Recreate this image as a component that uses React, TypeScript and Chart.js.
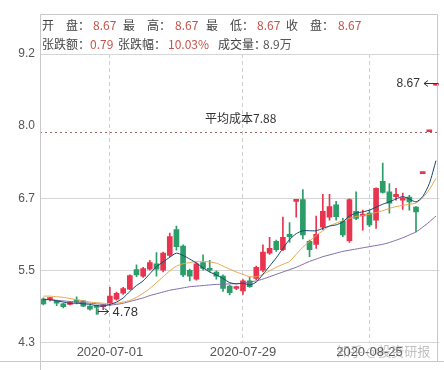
import React, { useEffect, useRef } from 'react';
import { Chart, registerables } from 'chart.js';
Chart.register(...registerables);

const dates = [
  '2020-06-15','2020-06-16','2020-06-17','2020-06-18','2020-06-19','2020-06-22','2020-06-23','2020-06-24','2020-06-29','2020-06-30',
  '2020-07-01','2020-07-02','2020-07-03','2020-07-06','2020-07-07','2020-07-08','2020-07-09','2020-07-10','2020-07-13','2020-07-14',
  '2020-07-15','2020-07-16','2020-07-17','2020-07-20','2020-07-21','2020-07-22','2020-07-23','2020-07-24','2020-07-27','2020-07-28',
  '2020-07-29','2020-07-30','2020-07-31','2020-08-03','2020-08-04','2020-08-05','2020-08-06','2020-08-07','2020-08-10','2020-08-11',
  '2020-08-12','2020-08-13','2020-08-14','2020-08-17','2020-08-18','2020-08-19','2020-08-20','2020-08-21','2020-08-24','2020-08-25',
  '2020-08-26','2020-08-27','2020-08-28','2020-08-31','2020-09-01','2020-09-02','2020-09-03','2020-09-04','2020-09-07','2020-09-08',
];

const opens = [
  5.04, 5.03, 5.01, 4.96, 4.95, 5.01, 5.01, 4.92, 4.93, 4.91,
  4.97, 5.04, 5.14, 5.21, 5.54, 5.43, 5.55, 5.64, 5.53, 5.78,
  6.22, 5.94, 5.53, 5.38, 5.66, 5.56, 5.50, 5.43, 5.26, 5.22,
  5.18, 5.35, 5.39, 5.53, 5.82, 6.02, 5.88, 6.14, 6.70, 6.73,
  6.02, 5.97, 6.26, 6.43, 6.64, 6.36, 6.03, 6.53, 6.45, 6.50,
  6.38, 7.04, 6.86, 6.78, 6.72, 6.77, 6.60, 7.17, 7.88, 8.67,
];
const closes = [
  4.96, 5.05, 4.97, 4.91, 4.99, 4.99, 4.92, 4.87, 4.90, 4.92,
  5.09, 5.14, 5.22, 5.44, 5.45, 5.56, 5.66, 5.55, 5.82, 6.10,
  5.93, 5.45, 5.43, 5.64, 5.56, 5.53, 5.43, 5.22, 5.15, 5.23,
  5.35, 5.25, 5.58, 5.84, 5.90, 5.88, 6.09, 6.10, 6.73, 6.13,
  5.88, 6.14, 6.53, 6.61, 6.44, 6.13, 6.73, 6.41, 6.47, 6.30,
  6.92, 6.85, 6.67, 6.82, 6.76, 6.69, 6.52, 7.17, 7.88, 8.67,
];
const highs = [
  5.06, 5.07, 5.02, 4.97, 5.00, 5.08, 5.02, 4.93, 4.94, 4.95,
  5.24, 5.16, 5.24, 5.45, 5.62, 5.58, 5.70, 5.83, 5.84, 6.16,
  6.28, 5.96, 5.55, 5.66, 5.79, 5.70, 5.52, 5.45, 5.28, 5.26,
  5.37, 5.41, 5.60, 5.96, 6.09, 6.04, 6.43, 6.34, 6.73, 6.90,
  6.04, 6.45, 6.82, 6.82, 6.70, 6.41, 6.74, 6.86, 6.55, 6.55,
  6.93, 7.35, 7.00, 6.92, 6.84, 6.80, 6.61, 7.17, 7.88, 8.67,
];
const lows = [
  4.94, 5.01, 4.93, 4.89, 4.94, 4.96, 4.91, 4.85, 4.78, 4.86,
  4.93, 5.02, 5.12, 5.20, 5.42, 5.41, 5.53, 5.43, 5.50, 5.76,
  5.87, 5.42, 5.35, 5.36, 5.53, 5.50, 5.38, 5.17, 5.11, 5.20,
  5.12, 5.24, 5.37, 5.50, 5.80, 5.85, 5.86, 6.00, 6.43, 6.06,
  5.76, 5.90, 6.22, 6.38, 6.38, 6.10, 6.00, 6.39, 6.21, 6.27,
  6.24, 6.84, 6.50, 6.72, 6.56, 6.55, 6.18, 7.17, 7.88, 8.67,
];

const ma5 = [
  5.03, 5.03, 5.01, 4.99, 4.97, 4.97, 4.96, 4.95, 4.93, 4.92,
  4.95, 4.99, 5.06, 5.17, 5.27, 5.35, 5.47, 5.59, 5.67, 5.75,
  5.82, 5.78, 5.72, 5.65, 5.57, 5.50, 5.45, 5.39, 5.32, 5.30,
  5.31, 5.28, 5.33, 5.46, 5.60, 5.74, 5.90, 6.05, 6.15, 6.20,
  6.20, 6.20, 6.24, 6.28, 6.30, 6.35, 6.45, 6.50, 6.52, 6.55,
  6.60, 6.65, 6.69, 6.74, 6.78, 6.74, 6.69, 6.78, 7.00, 7.39,
];
const ma10 = [
  5.09, 5.09, 5.08, 5.07, 5.05, 5.03, 5.01, 4.99, 4.98, 4.97,
  4.96, 4.97, 4.99, 5.02, 5.07, 5.14, 5.22, 5.32, 5.42, 5.52,
  5.60, 5.64, 5.66, 5.68, 5.68, 5.67, 5.65, 5.60, 5.55, 5.50,
  5.46, 5.42, 5.42, 5.46, 5.52, 5.58, 5.63, 5.68, 5.80, 5.92,
  6.02, 6.12, 6.20, 6.28, 6.33, 6.37, 6.41, 6.44, 6.46, 6.48,
  6.51, 6.54, 6.58, 6.61, 6.63, 6.65, 6.67, 6.76, 6.90, 7.09,
];
const ma20 = [
  5.04, 5.03, 5.02, 5.01, 5.00, 4.99, 4.98, 4.97, 4.96, 4.95,
  4.94, 4.95, 4.97, 5.00, 5.03, 5.06, 5.10, 5.13, 5.16, 5.19,
  5.21, 5.23, 5.25, 5.26, 5.27, 5.28, 5.29, 5.29, 5.30, 5.30,
  5.31, 5.33, 5.35, 5.38, 5.42, 5.46, 5.50, 5.54, 5.58, 5.63,
  5.68, 5.72, 5.76, 5.79, 5.82, 5.85, 5.87, 5.89, 5.91, 5.93,
  5.95, 5.97, 6.00, 6.04, 6.08, 6.13, 6.18, 6.26, 6.35, 6.45,
];

const yTickValues = [4.3, 5.525, 6.75, 7.975, 9.2];
const yTickLabels = ['4.3', '5.5', '6.7', '8.0', '9.2'];
const xLabelDates = ['2020-07-01', '2020-07-29', '2020-08-25'];

const avgCost = 7.88;
const avgCostLabel = '平均成本7.88';
const highMarkIndex = 59;
const highMarkValue = 8.67;
const lowMarkIndex = 8;
const lowMarkValue = 4.78;

const headerRow1 = [
  { label: '开　盘：', value: '8.67' },
  { label: '最　高：', value: '8.67' },
  { label: '最　低：', value: '8.67' },
  { label: '收　盘：', value: '8.67' },
];
const headerRow2 = [
  { label: '张跌额：', value: '0.79', red: true },
  { label: '张跌幅：', value: '10.03%', red: true },
  { label: '成交量：', value: '8.9万', red: false },
];
const watermark = '知乎 @投资研报';

const RED = '#e8344e';
const GREEN = '#2a9d68';
const candleColors = closes.map((c, i) => (c >= opens[i] ? RED : GREEN));

const decor = {
  id: 'decor',
  beforeDatasetsDraw(chart: any) {
    const { ctx, chartArea: ca, scales } = chart;
    const y = scales.y.getPixelForValue(avgCost);
    ctx.save();
    ctx.strokeStyle = '#9a6b6b';
    ctx.lineWidth = 1;
    ctx.setLineDash([2, 3]);
    ctx.beginPath();
    ctx.moveTo(ca.left, Math.round(y) + 0.5);
    ctx.lineTo(ca.right, Math.round(y) + 0.5);
    ctx.stroke();
    ctx.setLineDash([]);
    ctx.fillStyle = '#333';
    ctx.font = '12px "Noto Sans CJK SC"';
    ctx.textBaseline = 'middle';
    ctx.textAlign = 'left';
    ctx.fillText(avgCostLabel, 205, y - 13);
    ctx.restore();
  },
  afterDraw(chart: any) {
    const { ctx, scales } = chart;
    const xs = scales.x;
    const ys = scales.y;
    ctx.save();
    // frame
    ctx.strokeStyle = '#c8c8c8';
    ctx.lineWidth = 1;
    ctx.beginPath();
    ctx.moveTo(40.5, 14.5); ctx.lineTo(437.5, 14.5); ctx.lineTo(437.5, 361.5);
    ctx.moveTo(40.5, 14.5); ctx.lineTo(40.5, 370);
    ctx.moveTo(0, 361.5); ctx.lineTo(444, 361.5);
    ctx.stroke();

    // header
    ctx.textBaseline = 'middle';
    ctx.textAlign = 'left';
    ctx.font = '12px "Noto Sans CJK SC"';
    const r1x = [42, 123, 206, 286];
    const r1v = [93, 175, 257, 338];
    headerRow1.forEach((h, i) => {
      ctx.fillStyle = '#444';
      ctx.fillText(h.label, r1x[i], 25);
      ctx.fillStyle = '#c4524a';
      ctx.fillText(h.value, r1v[i], 25);
    });
    const r2x = [42, 118, 218];
    const r2v = [90, 168, 263];
    headerRow2.forEach((h, i) => {
      ctx.fillStyle = '#444';
      ctx.fillText(h.label, r2x[i], 44);
      ctx.fillStyle = h.red ? '#c4524a' : '#555';
      ctx.fillText(h.value, r2v[i], 44);
    });

    // high marker
    ctx.font = '12px "Liberation Sans"';
    ctx.fillStyle = '#333';
    ctx.strokeStyle = '#333';
    const hx = xs.getPixelForValue(highMarkIndex);
    const hy = Math.round(ys.getPixelForValue(highMarkValue) - 2) + 0.5;
    ctx.textAlign = 'right';
    ctx.fillText(highMarkValue.toFixed(2), hx - 16, hy);
    ctx.beginPath();
    ctx.moveTo(hx - 12, hy); ctx.lineTo(hx + 2, hy);
    ctx.moveTo(hx - 12, hy); ctx.lineTo(hx - 8, hy - 3);
    ctx.moveTo(hx - 12, hy); ctx.lineTo(hx - 8, hy + 3);
    ctx.stroke();

    // low marker
    const lx = xs.getPixelForValue(lowMarkIndex);
    const ly = Math.round(ys.getPixelForValue(lowMarkValue) - 3) + 0.5;
    ctx.beginPath();
    ctx.moveTo(lx + 1.5, ly - 3); ctx.lineTo(lx + 1.5, ly + 3);
    ctx.moveTo(lx + 1.5, ly); ctx.lineTo(lx + 12, ly);
    ctx.moveTo(lx + 12, ly); ctx.lineTo(lx + 8, ly - 3);
    ctx.moveTo(lx + 12, ly); ctx.lineTo(lx + 8, ly + 3);
    ctx.stroke();
    ctx.textAlign = 'left';
    ctx.font = '13px "Liberation Sans"';
    ctx.fillText(lowMarkValue.toFixed(2), lx + 16, ly + 1);

    // watermark
    ctx.font = '13px "Noto Sans CJK SC"';
    ctx.fillStyle = 'rgba(140,140,140,0.55)';
    ctx.fillText(watermark, 337, 351);
    ctx.restore();
  },
};

export default function App() {
  const ref = useRef<HTMLCanvasElement>(null);
  useEffect(() => {
    const chart = new Chart(ref.current as HTMLCanvasElement, {
      type: 'bar',
      data: {
        labels: dates,
        datasets: [
          { type: 'line', data: ma5, borderColor: '#17476e', borderWidth: 1, pointRadius: 0, tension: 0.25, order: 0 } as any,
          { type: 'line', data: ma10, borderColor: '#e8a54c', borderWidth: 1, pointRadius: 0, tension: 0.25, order: 0 } as any,
          { type: 'line', data: ma20, borderColor: '#7f68a8', borderWidth: 1, pointRadius: 0, tension: 0.25, order: 0 } as any,
          {
            type: 'bar',
            data: opens.map((o, i) => [o, closes[i]]),
            backgroundColor: candleColors,
            borderWidth: 0,
            barThickness: 5,
            minBarLength: 2,
            grouped: false,
            order: 1,
          } as any,
          {
            type: 'bar',
            data: lows.map((l, i) => [l, highs[i]]),
            backgroundColor: candleColors,
            borderWidth: 0,
            barThickness: 1,
            grouped: false,
            order: 2,
          } as any,
        ],
      },
      options: {
        responsive: false,
        animation: false,
        devicePixelRatio: 1,
        layout: { padding: { top: 54, right: 4.7, left: 0, bottom: 0 } },
        plugins: { legend: { display: false }, tooltip: { enabled: false } },
        scales: {
          x: {
            type: 'category',
            offset: true,
            grid: {
              offset: false,
              drawTicks: false,
              color: (c: any) => (xLabelDates.includes(dates[c.index]) ? '#cfcfcf' : 'rgba(0,0,0,0)'),
            },
            border: { display: false, dash: [4, 3] },
            ticks: {
              autoSkip: false,
              maxRotation: 0,
              padding: 2,
              color: '#555',
              font: { family: 'Liberation Sans', size: 13 },
              callback: (_v: any, i: number) => (xLabelDates.includes(dates[i]) ? dates[i] : ''),
            },
            afterFit: (s: any) => { s.height = 27.3; },
          },
          y: {
            min: 4.3,
            max: 9.2,
            afterBuildTicks: (s: any) => { s.ticks = yTickValues.map((v) => ({ value: v })); },
            grid: {
              drawTicks: false,
              color: (c: any) => (c.index === 3 ? 'rgba(0,0,0,0)' : '#d6d6d6'),
            },
            border: { display: false },
            ticks: {
              padding: 5,
              color: '#555',
              font: { family: 'Liberation Sans', size: 12 },
              callback: (_v: any, i: number) => yTickLabels[i],
            },
            afterFit: (s: any) => { s.width = 40; },
          },
        },
      } as any,
      plugins: [decor],
    });
    return () => chart.destroy();
  }, []);
  return (
    <div style={{ position: 'fixed', left: 0, top: 0, width: 444, height: 370, background: '#fff' }}>
      <canvas ref={ref} width={444} height={370} style={{ display: 'block', width: 444, height: 370 }} />
    </div>
  );
}
